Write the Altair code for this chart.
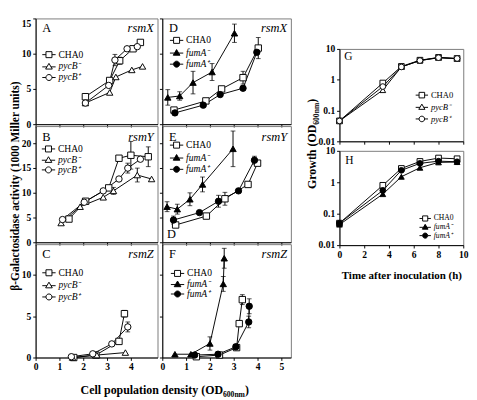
import altair as alt
import pandas as pd

FONT = "Liberation Serif"

PYC = ["CHA0", "pycB\u207b", "pycB\u207a"]
FUM = ["CHA0", "fumA\u207b", "fumA\u207a"]

# ---------------- Panel A : rsmX (pycB) ----------------
A_CHA0_X = [2.09, 3.11, 3.53, 4.09, 4.40]
A_CHA0_Y = [3.9, 6.2, 9.0, 10.7, 11.6]
A_CHA0_E = [0, 0, 0.5, 0, 0.3]
A_MUT_X = [2.09, 3.11, 3.37, 4.04, 4.49]
A_MUT_Y = [3.0, 4.5, 6.7, 7.7, 8.2]
A_MUT_E = [0, 0, 0, 0, 0]
A_COMP_X = [2.09, 3.07, 3.33, 3.84, 4.27]
A_COMP_Y = [3.0, 5.5, 9.1, 10.7, 11.0]
A_COMP_E = [0, 0, 0.8, 0, 0]

# ---------------- Panel B : rsmY (pycB) ----------------
B_CHA0_X = [1.40, 2.10, 3.07, 3.50, 4.00, 4.73]
B_CHA0_Y = [4.7, 8.3, 11.0, 17.0, 17.6, 17.3]
B_CHA0_E = [0, 0, 0, 0, 2.8, 2.0]
B_MUT_X = [1.07, 1.87, 2.84, 3.27, 4.27, 4.87]
B_MUT_Y = [3.9, 7.2, 9.1, 10.4, 13.6, 12.8]
B_MUT_E = [0, 0, 0, 0.7, 1.4, 0]
B_COMP_X = [1.13, 2.04, 2.84, 3.50, 3.87, 4.40]
B_COMP_Y = [4.6, 8.1, 10.4, 12.8, 15.0, 16.8]
B_COMP_E = [0, 0, 0, 0, 1.0, 0]

# ---------------- Panel C : rsmZ (pycB) ----------------
C_CHA0_X = [1.60, 2.53, 3.50, 3.73]
C_CHA0_Y = [0.0, 0.3, 1.95, 5.3]
C_CHA0_E = [0, 0, 0, 0.4]
C_MUT_X = [1.55, 2.57, 3.77]
C_MUT_Y = [0.0, 0.3, 0.6]
C_MUT_E = [0, 0, 0]
C_COMP_X = [1.50, 2.40, 3.20, 3.87]
C_COMP_Y = [0.1, 0.45, 1.65, 3.7]
C_COMP_E = [0, 0, 0, 0.6]

# ---------------- Panel D : rsmX (fumA) ----------------
D_CHA0_X = [0.49, 1.83, 2.49, 3.39, 4.03]
D_CHA0_Y = [2.0, 3.3, 5.0, 6.6, 10.8]
D_CHA0_E = [0, 0, 0, 0.9, 1.5]
D_MUT_X = [0.23, 0.73, 1.29, 2.09, 3.03]
D_MUT_Y = [3.8, 4.0, 5.9, 7.4, 12.9]
D_MUT_E = [1.1, 0.6, 1.6, 1.2, 1.3]
D_COMP_X = [0.53, 1.72, 2.43, 3.39, 3.97]
D_COMP_Y = [1.6, 2.7, 4.2, 5.1, 10.2]
D_COMP_E = [0, 0, 0, 0, 0]

# ---------------- Panel E : rsmY (fumA) ----------------
E_CHA0_X = [0.56, 1.85, 2.63, 3.60, 4.00]
E_CHA0_Y = [3.5, 5.3, 8.8, 11.7, 16.0]
E_CHA0_E = [0, 0, 1.3, 0, 0]
E_MUT_X = [0.20, 0.63, 1.16, 1.69, 2.97]
E_MUT_Y = [7.2, 6.7, 8.7, 11.7, 18.9]
E_MUT_E = [1.0, 1.0, 1.3, 1.5, 3.6]
E_COMP_X = [0.47, 1.56, 2.36, 3.20, 3.87]
E_COMP_Y = [4.5, 6.0, 8.3, 10.4, 16.6]
E_COMP_E = [0.8, 0, 1.2, 0, 0.8]

# ---------------- Panel F : rsmZ (fumA) ----------------
F_CHA0_X = [1.43, 2.40, 3.12, 3.23, 3.36]
F_CHA0_Y = [0.1, 0.3, 1.2, 4.1, 7.0]
F_CHA0_E = [0, 0, 0, 0, 0.6]
F_MUT_X = [0.53, 1.20, 2.00, 2.56, 2.60]
F_MUT_Y = [0.4, 0.4, 1.7, 8.9, 12.0]
F_MUT_E = [0, 0, 0.8, 0.9, 1.2]
F_COMP_X = [1.36, 2.34, 3.09, 3.63, 3.65]
F_COMP_Y = [0.3, 0.4, 1.3, 4.3, 6.2]
F_COMP_E = [0, 0, 0, 0.7, 0.9]

# ---------------- Panels G / H : growth ----------------
TIME = [0, 3.5, 5, 6.5, 8, 9.5]
NO_ERR = [0, 0, 0, 0, 0, 0]
G_CHA0_Y = [0.046, 0.78, 2.7, 4.3, 5.3, 4.9]
G_MUT_Y = [0.046, 0.46, 2.6, 4.2, 5.2, 4.8]
G_COMP_Y = [0.046, 0.60, 2.6, 4.2, 5.2, 4.9]
H_CHA0_Y = [0.050, 0.80, 2.75, 4.6, 5.9, 5.6]
H_MUT_Y = [0.045, 0.42, 1.5, 2.9, 4.3, 4.4]
H_COMP_Y = [0.050, 0.55, 2.4, 4.0, 4.7, 4.5]

SHAPES = ["square", "triangle-up", "circle"]
LEG_PATHS = [
    "M-0.9,-0.9H0.9V0.9H-0.9Z M-2,0H-0.9 M0.9,0H2",
    "M0,-0.95L1,0.75H-1Z M-2,0.1H-0.6 M0.6,0.1H2",
    "M0.9,0A0.9,0.9,0,1,1,-0.9,0A0.9,0.9,0,1,1,0.9,0Z M-2,0H-0.9 M0.9,0H2",
]
OPEN_FILLS = ["white", "white", "white"]
FUM_FILLS = ["white", "black", "black"]
STROKES = ["black", "black", "black"]


def make_df(strains, xs, ys, es):
    rows = []
    for s, xv, yv, ev in zip(strains, xs, ys, es):
        for a, b, c in zip(xv, yv, ev):
            rows.append({"strain": s, "x": a, "y": b, "lo": b - c, "hi": b + c, "e": c})
    return pd.DataFrame(rows)


def text_layer(txt, x, y, **kw):
    opts = dict(font=FONT, color="black", baseline="alphabetic", align="left", fontSize=13)
    opts.update(kw)
    return alt.Chart(pd.DataFrame({"t": [txt]})).mark_text(**opts).encode(
        x=alt.value(x), y=alt.value(y), text="t:N"
    )


def panel(df, strains, fills, w, h, xdom, ydom, xvals, yvals, xax_kw, yax_kw,
          texts, leg, log=False, msize=45):
    xsc = alt.Scale(domain=xdom, nice=False, zero=False)
    if log:
        ysc = alt.Scale(type="log", domain=ydom, nice=False)
    else:
        ysc = alt.Scale(domain=ydom, nice=False, zero=False)
    xax = alt.Axis(values=xvals, **xax_kw)
    yax = alt.Axis(values=yvals, **yax_kw)
    X = alt.X("x:Q", scale=xsc, axis=xax)
    Y = alt.Y("y:Q", scale=ysc, axis=yax)
    base = alt.Chart(df)
    layers = []
    if (df["e"] > 0).any():
        eb = base.transform_filter("datum.e > 0")
        layers.append(eb.mark_rule(color="black", strokeWidth=1).encode(
            x=X, y=alt.Y("lo:Q", scale=ysc, axis=yax), y2="hi:Q"))
        layers.append(eb.mark_tick(orient="horizontal", color="black", size=5, thickness=1).encode(
            x=X, y=alt.Y("hi:Q", scale=ysc, axis=yax)))
        layers.append(eb.mark_tick(orient="horizontal", color="black", size=5, thickness=1).encode(
            x=X, y=alt.Y("lo:Q", scale=ysc, axis=yax)))
    layers.append(base.mark_line(color="black", strokeWidth=1).encode(x=X, y=Y, detail="strain:N"))
    for s, shp, f in zip(strains, SHAPES, fills):
        layers.append(
            base.transform_filter(alt.datum.strain == s)
            .mark_point(shape=shp, filled=True, fill=f, stroke="black", strokeWidth=1,
                        size=msize, opacity=1)
            .encode(x=X, y=Y)
        )
    lx, ly, rp, fs, ss = leg
    lg = alt.Legend(
        orient="none", legendX=lx, legendY=ly, title=None, padding=0,
        labelFont=FONT, labelFontSize=fs, labelColor="black",
        labelFontStyle={"expr": "datum.label == 'CHA0' ? 'normal' : 'italic'"},
        labelOffset=5, rowPadding=rp, symbolSize=ss, symbolStrokeWidth=1,
    )
    layers.append(
        base.transform_filter("false")
        .mark_point(filled=True, strokeWidth=1, size=ss, opacity=1)
        .encode(
            shape=alt.Shape("strain:N", scale=alt.Scale(domain=strains, range=LEG_PATHS), legend=lg),
            fill=alt.Fill("strain:N", scale=alt.Scale(domain=strains, range=fills), legend=lg),
            stroke=alt.Stroke("strain:N", scale=alt.Scale(domain=strains, range=STROKES), legend=lg),
        )
    )
    for t in texts:
        layers.append(text_layer(*t[:3], **(t[3] if len(t) > 3 else {})))
    return alt.layer(*layers).properties(width=w, height=h)


NOLAB = dict(labels=False, title=None)
YLAB = dict(title=None)
ITAL = {"fontStyle": "italic", "align": "right"}

LW, MW = 128, 135
HA, HB, HC = 111, 122, 119
LX = [0, 5.12]
MX = [0, 5.4]
YA, YB, YC = [0, 15], [0, 23.5], [0, 13.7]

A = panel(make_df(PYC, [A_CHA0_X, A_MUT_X, A_COMP_X], [A_CHA0_Y, A_MUT_Y, A_COMP_Y], [A_CHA0_E, A_MUT_E, A_COMP_E]),
          PYC, OPEN_FILLS, LW, HA, LX, YA, [0, 1, 2, 3, 4], [0, 5, 10, 15], NOLAB,
          dict(title=None, labelBaseline={"condition": {"test": "datum.value == 15", "value": "top"}, "value": "middle"}),
          [("A", 7, 14), ("rsmX", 124, 14, ITAL)], (9, 33, 0.5, 10, 49))
B = panel(make_df(PYC, [B_CHA0_X, B_MUT_X, B_COMP_X], [B_CHA0_Y, B_MUT_Y, B_COMP_Y], [B_CHA0_E, B_MUT_E, B_COMP_E]),
          PYC, OPEN_FILLS, LW, HB, LX, YB, [0, 1, 2, 3, 4], [0, 5, 10, 15, 20], NOLAB,
          dict(title="\u03b2-Galactosidase activity (1000 Miller units)", titleFontSize=12,
               titlePadding=0, titleY=62.5),
          [("B", 7, 16), ("rsmY", 124, 16, ITAL)], (8.5, 19, -0.5, 10, 49))
C = panel(make_df(PYC, [C_CHA0_X, C_MUT_X, C_COMP_X], [C_CHA0_Y, C_MUT_Y, C_COMP_Y], [C_CHA0_E, C_MUT_E, C_COMP_E]),
          PYC, OPEN_FILLS, LW, HC, LX, YC, [0, 1, 2, 3, 4], [0, 5, 10], YLAB, YLAB,
          [("C", 7, 14), ("rsmZ", 124, 14, ITAL)], (9, 25, 1.2, 10, 49))

D = panel(make_df(FUM, [D_CHA0_X, D_MUT_X, D_COMP_X], [D_CHA0_Y, D_MUT_Y, D_COMP_Y], [D_CHA0_E, D_MUT_E, D_COMP_E]),
          FUM, FUM_FILLS, MW, HA, MX, YA, [0, 1, 2, 3, 4, 5], [0, 5, 10, 15], NOLAB, NOLAB,
          [("D", 7, 14), ("rsmX", 131, 14, ITAL)], (10, 18, 1, 10, 49))
E = panel(make_df(FUM, [E_CHA0_X, E_MUT_X, E_COMP_X], [E_CHA0_Y, E_MUT_Y, E_COMP_Y], [E_CHA0_E, E_MUT_E, E_COMP_E]),
          FUM, FUM_FILLS, MW, HB, MX, YB, [0, 1, 2, 3, 4, 5], [0, 5, 10, 15, 20], NOLAB, NOLAB,
          [("E", 7, 16), ("rsmY", 131, 16, ITAL), ("D", 5, 117)], (10, 15, 1.2, 10, 49))
F = panel(make_df(FUM, [F_CHA0_X, F_MUT_X, F_COMP_X], [F_CHA0_Y, F_MUT_Y, F_COMP_Y], [F_CHA0_E, F_MUT_E, F_COMP_E]),
          FUM, FUM_FILLS, MW, HC, MX, YC, [0, 1, 2, 3, 4, 5], [0, 5, 10], YLAB, NOLAB,
          [("F", 7, 14), ("rsmZ", 131, 14, ITAL)], (11, 25.7, -0.7, 10, 49))

GW, GH, HH = 130, 97, 99
LOGY = dict(title=None, format="~g")
G = panel(make_df(PYC, [TIME, TIME, TIME], [G_CHA0_Y, G_MUT_Y, G_COMP_Y], [NO_ERR, NO_ERR, NO_ERR]),
          PYC, OPEN_FILLS, GW, GH, [0, 10], [0.01, 10], [0, 2, 4, 6, 8, 10], [0.01, 0.1, 1, 10],
          NOLAB, LOGY,
          [("G", 5, 12, {"fontSize": 12}),
           ("Growth (OD", -25, 79.6, {"angle": 270, "align": "right", "fontSize": 12.5, "fontWeight": "bold"}),
           ("600nm", -25, 79.6, {"angle": 270, "align": "left", "fontSize": 8, "fontWeight": "bold", "dy": 3}),
           (")", -25, 56.5, {"angle": 270, "align": "left", "fontSize": 12.5, "fontWeight": "bold"})],
          (82, 44, 1.5, 9, 42), log=True, msize=36)
H = panel(make_df(FUM, [TIME, TIME, TIME], [H_CHA0_Y, H_MUT_Y, H_COMP_Y], [NO_ERR, NO_ERR, NO_ERR]),
          FUM, FUM_FILLS, GW, HH, [0, 10], [0.01, 10], [0, 2, 4, 6, 8, 10], [0.01, 0.1, 1, 10],
          dict(title="Time after inoculation (h)", titleFontSize=11.5, titlePadding=11), LOGY,
          [("H", 6, 14, {"fontSize": 12})],
          (86, 67, -2.7, 8, 36), log=True, msize=36)

spacer = alt.Chart(pd.DataFrame({"v": [0]})).mark_point(opacity=0, size=0).encode(
    x=alt.value(0), y=alt.value(0)
).properties(width=GW, height=22, view=alt.ViewBackground(strokeOpacity=0))

title_chart = alt.layer(
    text_layer("Cell population density (OD", 196.7, 22, fontSize=12.5, fontWeight="bold", align="right"),
    text_layer("600nm", 196.7, 22, fontSize=8, fontWeight="bold", dy=3),
    text_layer(")", 219.8, 22, fontSize=12.5, fontWeight="bold"),
).properties(width=300, height=12, view=alt.ViewBackground(strokeOpacity=0))

IND = dict(shape="independent", fill="independent", stroke="independent")
colL = alt.vconcat(A, B, C, spacing=2, bounds="flush").resolve_scale(**IND)
colM = alt.vconcat(D, E, F, spacing=2, bounds="flush").resolve_scale(**IND)
colR = alt.vconcat(spacer, G, H, spacing=10, bounds="flush").resolve_scale(**IND)
left2 = alt.hconcat(colL, colM, spacing=0).resolve_scale(**IND)
main = alt.hconcat(left2, colR, spacing=14).resolve_scale(**IND)

chart = (
    alt.vconcat(main, title_chart, spacing=0)
    .resolve_scale(**IND)
    .properties(padding=0)
    .configure_view(stroke="#777", strokeWidth=1)
    .configure_axis(
        domainColor="black", domainWidth=1, tickColor="black", tickWidth=1, tickSize=3,
        labelFont=FONT, labelFontSize=10, labelFontWeight="bold", labelColor="black",
        labelPadding=2, labelFlush=False, labelOverlap=False, grid=False,
        titleFont=FONT, titleFontWeight="bold", titleColor="black",
    )
)

chart.save("out.html", embed_options={"renderer": "svg", "actions": False})
